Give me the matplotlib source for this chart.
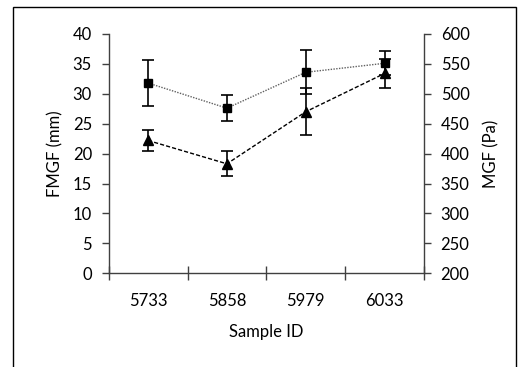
import matplotlib
matplotlib.use("Agg")
import matplotlib.pyplot as plt
from matplotlib.patches import Rectangle

plt.rcParams["font.family"] = ["Lato", "DejaVu Sans"]
plt.rcParams["font.size"] = 12

samples = ["5733", "5858", "5979", "6033"]
fmgf_mm = [22.2, 18.3, 27.0, 33.4]
fmgf_err = [1.8, 2.1, 3.9, 2.5]
mgf_pa = [518, 476, 536, 551]
mgf_err = [39, 22, 37, 20]

AXIS_COLOR = "#404040"

fig = plt.figure(figsize=(5.22, 3.67), dpi=100)
# outer frame; bottom edge sits below the canvas
fig.patches.append(Rectangle((13 / 522, -0.1), (516 - 13) / 522, 1.1 - 7 / 367,
                             transform=fig.transFigure, fill=False,
                             edgecolor="black", linewidth=1.0))

ax = fig.add_axes([0.2082, 0.2553, 0.604, 0.6521])
ax2 = ax.twinx()

x = list(range(len(samples)))

ax.errorbar(x, fmgf_mm, yerr=fmgf_err, color="black", ecolor="black",
            marker="^", markersize=6.5, linestyle=(0, (3, 1.5)), linewidth=1.0,
            elinewidth=1.2, capsize=4.5, capthick=1.2, zorder=3)
ax2.errorbar(x, mgf_pa, yerr=mgf_err, color="#606060", ecolor="black",
             marker="s", markersize=6, markerfacecolor="black", markeredgecolor="black",
             linestyle=(0, (1, 1)), linewidth=1.0,
             elinewidth=1.2, capsize=4.5, capthick=1.2, zorder=3)

ax.set_xlim(-0.5, len(samples) - 0.5)
ax.set_ylim(0, 40)
ax2.set_ylim(200, 600)
ax.set_yticks(range(0, 41, 5))
ax2.set_yticks(range(200, 601, 50))

ax.set_xticks([i - 0.5 for i in range(len(samples) + 1)])
ax.set_xticklabels([])
ax.set_xticks(x, minor=True)
ax.set_xticklabels(samples, minor=True)
ax.tick_params(axis="x", which="major", direction="inout", length=10,
               width=1.0, color=AXIS_COLOR)
ax.tick_params(axis="x", which="minor", length=0, pad=14)
ax.tick_params(axis="y", direction="out", length=5, width=1.0,
               color=AXIS_COLOR, pad=7)
ax2.tick_params(axis="y", direction="out", length=5, width=1.0,
                color=AXIS_COLOR, pad=7)

for a in (ax, ax2):
    a.spines["top"].set_visible(False)
    for side in ("left", "right", "bottom"):
        a.spines[side].set_color(AXIS_COLOR)
        a.spines[side].set_linewidth(1.0)
ax.spines["right"].set_visible(False)
ax2.spines["left"].set_visible(False)
ax2.spines["bottom"].set_visible(False)

ax.set_xlabel("Sample ID", labelpad=11)
ax.set_ylabel("FMGF (mm)", labelpad=7)
ax2.set_ylabel("MGF (Pa)", labelpad=10)

fig.savefig("out.png", dpi=100)
